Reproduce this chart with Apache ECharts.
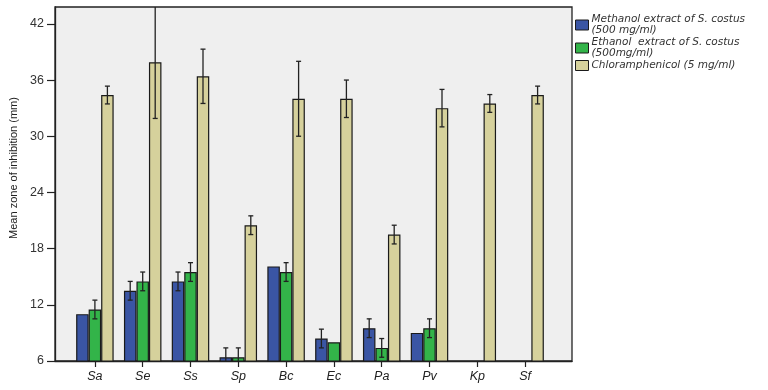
<!DOCTYPE html>
<html><head><meta charset="utf-8">
<script src="https://cdn.jsdelivr.net/npm/echarts@6/dist/echarts.min.js"></script>
<style>html,body{margin:0;padding:0;background:#fff}#c{width:768px;height:390px}</style>
</head><body><div id="c"></div>
<script>
const categories = ['Sa','Se','Ss','Sp','Bc','Ec','Pa','Pv','Kp','Sf'];
const methanol    = [11.0, 13.5, 14.5, 6.4, 16.1, 8.4, 9.5, 9.0, null, null];
const methanolErr = [0, 1.0, 1.0, 1.0, 0, 1.0, 1.0, 0, null, null];
const ethanol     = [11.5, 14.5, 15.5, 6.4, 15.5, 8.0, 7.4, 9.5, null, null];
const ethanolErr  = [1.0, 1.0, 1.0, 1.0, 1.0, 0, 1.0, 1.0, null, null];
const chloram     = [34.4, 37.9, 36.4, 20.5, 34.0, 34.0, 19.5, 33.0, 33.5, 34.4];
const chloramErr  = [0.95, 6.0, 2.9, 1.0, 4.0, 2.0, 1.0, 2.0, 0.95, 0.95];
const yTicks = [6, 12, 18, 24, 30, 36, 42];
const names = ['Methanol extract of S. costus\n(500 mg/ml)', 'Ethanol  extract of S. costus\n(500mg/ml)', 'Chloramphenicol (5 mg/ml)'];
const colors = ['#3a55a4', '#33b449', '#d6d19c'];
const Y_MIN = 6, Y_MAX = 43.8;
const BW = 12.5;

function errSeries(vals, errs, offset) {
  return {
    type: 'custom', xAxisIndex: 1, yAxisIndex: 1, z: 10, clip: true, silent: true,
    data: vals.map((v, i) => [i, v, errs[i]]),
    renderItem: function (params, api) {
      const i = api.value(0), v = api.value(1), e = api.value(2);
      if (!(e > 0) || isNaN(v)) return null;
      const hi = api.coord([i, v + e]);
      const lo = api.coord([i, v - e]);
      const x = hi[0] + offset;
      const st = { stroke: '#222', lineWidth: 1.3 };
      const cw = 2.5;
      return { type: 'group', children: [
        { type: 'line', shape: { x1: x, y1: hi[1], x2: x, y2: lo[1] }, style: st },
        { type: 'line', shape: { x1: x - cw, y1: hi[1], x2: x + cw, y2: hi[1] }, style: st },
        { type: 'line', shape: { x1: x - cw, y1: lo[1], x2: x + cw, y2: lo[1] }, style: st }
      ]};
    }
  };
}

function barSeries(name, data, color) {
  return {
    name: name, type: 'bar', xAxisIndex: 1, yAxisIndex: 1, data: data,
    barWidth: BW, barGap: '0%',
    itemStyle: { color: color, borderColor: '#1a1a1a', borderWidth: 1.2 }
  };
}

const chart = echarts.init(document.getElementById('c'), null, { renderer: 'canvas' });
chart.setOption({
  animation: false,
  backgroundColor: '#fff',
  textStyle: { fontFamily: 'Liberation Sans, Arial, sans-serif' },
  grid: [
    { left: 51, right: 196, top: 7, bottom: 29, show: true, backgroundColor: '#efefef', borderColor: '#222', borderWidth: 1.3 },
    { left: 71, right: 219, top: 7, bottom: 29 }
  ],
  xAxis: [
    { type: 'value', gridIndex: 0, min: 0, max: 1, axisLabel: { show: false }, axisTick: { show: false }, splitLine: { show: false },
      axisLine: { show: true, lineStyle: { color: '#222', width: 1.3 } } },
    { type: 'category', gridIndex: 1, data: categories,
      axisLine: { show: false },
      axisTick: { show: true, alignWithLabel: true, length: 6, lineStyle: { color: '#222', width: 1.2 } },
      axisLabel: { color: '#222', fontSize: 12.5, fontStyle: 'italic', margin: 9 } }
  ],
  yAxis: [
    { type: 'value', gridIndex: 0, min: Y_MIN, max: Y_MAX, interval: 6,
      name: 'Mean zone of inhibition (mm)', nameLocation: 'middle', nameGap: 36,
      nameTextStyle: { color: '#222', fontSize: 11, padding: [0, 0, 0, 32] },
      axisLine: { show: true, lineStyle: { color: '#222', width: 1.3 } },
      axisTick: { show: true, length: 8, customValues: yTicks, lineStyle: { color: '#222', width: 1.2 } },
      axisLabel: { color: '#333', fontSize: 12.5, margin: 11, customValues: yTicks },
      splitLine: { show: false } },
    { type: 'value', gridIndex: 1, min: Y_MIN, max: Y_MAX, interval: 6, show: false, splitLine: { show: false } }
  ],
  legend: {
    orient: 'vertical', left: 570, top: 9, itemWidth: 13, itemHeight: 10, itemGap: 1,
    icon: 'rect',
    data: names,
    itemStyle: { borderColor: '#1a1a1a', borderWidth: 1 },
    textStyle: { color: '#333', fontSize: 10.5, fontFamily: 'DejaVu Sans', fontStyle: 'italic', lineHeight: 11, padding: [0, 0, 0, -2] }
  },
  series: [
    barSeries(names[0], methanol, colors[0]),
    barSeries(names[1], ethanol, colors[1]),
    barSeries(names[2], chloram, colors[2]),
    errSeries(methanol, methanolErr, -BW),
    errSeries(ethanol, ethanolErr, 0),
    errSeries(chloram, chloramErr, BW)
  ]
});
</script></body></html>
